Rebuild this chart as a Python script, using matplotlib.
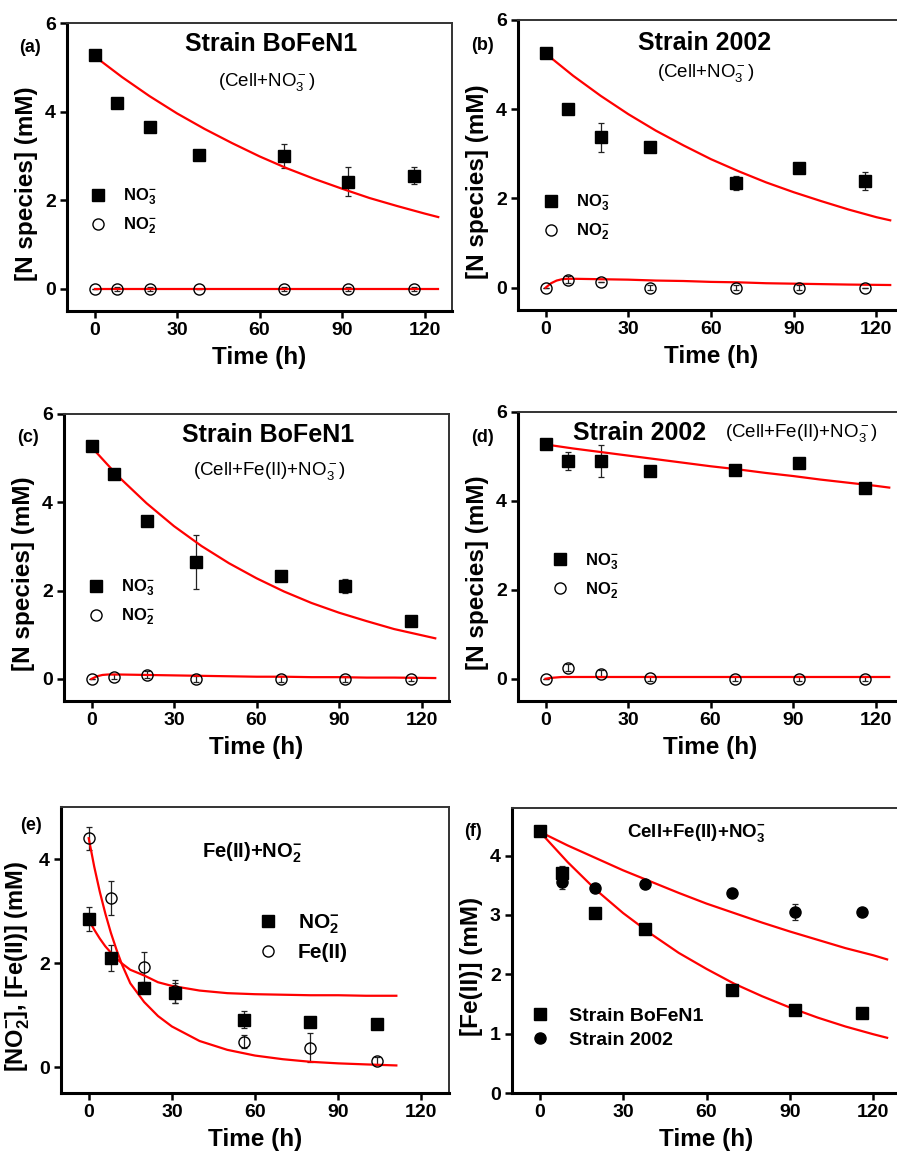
import matplotlib
matplotlib.use("Agg")
import matplotlib.pyplot as plt

plt.rcParams["font.family"] = ["Liberation Sans", "DejaVu Sans"]
plt.rcParams["mathtext.fontset"] = "custom"
plt.rcParams["mathtext.rm"] = "Liberation Sans"
plt.rcParams["mathtext.it"] = "Liberation Sans"
plt.rcParams["mathtext.bf"] = "Liberation Sans:bold"

# sampling times (h)
t = [0, 8, 20, 38, 69, 92, 116]
t_e = [0, 8, 20, 31, 56, 80, 104]

# (a) BoFeN1, Cell+NO3-
a_no3 = [5.27, 4.20, 3.65, 3.02, 3.00, 2.42, 2.55]
a_no3_err = [0.05, 0.05, 0.05, 0.06, 0.28, 0.33, 0.19]
a_no2 = [0, 0, 0, 0, 0, 0, 0]
a_no2_err = [0, 0.04, 0.04, 0, 0.04, 0.04, 0.04]

# (b) 2002, Cell+NO3-
b_no3 = [5.27, 4.01, 3.37, 3.15, 2.35, 2.69, 2.39]
b_no3_err = [0.03, 0.03, 0.32, 0.03, 0.15, 0.05, 0.20]
b_no2 = [0, 0.18, 0.12, 0, 0, 0, 0]
b_no2_err = [0, 0.08, 0, 0.05, 0.05, 0.05, 0]

# (c) BoFeN1, Cell+Fe(II)+NO3-
c_no3 = [5.27, 4.64, 3.57, 2.65, 2.32, 2.10, 1.32]
c_no3_err = [0.03, 0.05, 0.05, 0.62, 0.05, 0.16, 0.08]
c_no2 = [0, 0.05, 0.09, 0, 0, 0, 0]
c_no2_err = [0, 0.06, 0.08, 0.06, 0.06, 0.06, 0.05]

# (d) 2002, Cell+Fe(II)+NO3-
d_no3 = [5.28, 4.89, 4.89, 4.68, 4.70, 4.85, 4.29]
d_no3_err = [0.03, 0.20, 0.36, 0.10, 0.05, 0.03, 0.03]
d_no2 = [0, 0.25, 0.11, 0.01, 0, 0, 0]
d_no2_err = [0, 0.08, 0.08, 0.06, 0.06, 0.06, 0.06]

# (e) abiotic Fe(II)+NO2-
e_no2 = [2.84, 2.10, 1.51, 1.43, 0.91, 0.87, 0.83]
e_no2_err = [0.23, 0.25, 0.05, 0.19, 0.16, 0.03, 0.03]
e_fe = [4.40, 3.25, 1.93, 1.46, 0.49, 0.37, 0.11]
e_fe_err = [0.22, 0.33, 0.29, 0.22, 0.13, 0.28, 0.08]

# (f) Fe(II) with cells
f_bofen = [4.41, 3.70, 3.03, 2.76, 1.73, 1.39, 1.34]
f_bofen_err = [0.03, 0.12, 0.03, 0.03, 0.03, 0.03, 0.03]
f_2002 = [4.41, 3.55, 3.46, 3.52, 3.37, 3.05, 3.05]
f_2002_err = [0.03, 0.12, 0.03, 0.03, 0.03, 0.13, 0.03]

# model curves
fit_t = [0, 10, 20, 30, 40, 50, 60, 70, 80, 90, 100, 110, 120, 125]
fit_a_no3 = [5.25, 4.78, 4.35, 3.96, 3.61, 3.29, 2.99, 2.72, 2.48, 2.26, 2.05, 1.87, 1.70, 1.62]
fit_b_no3 = [5.25, 4.75, 4.30, 3.89, 3.52, 3.19, 2.88, 2.61, 2.36, 2.14, 1.94, 1.75, 1.58, 1.51]
fit_c_no3 = [5.25, 4.57, 3.98, 3.46, 3.01, 2.62, 2.28, 1.98, 1.72, 1.50, 1.31, 1.13, 0.99, 0.92]
fit_d_no3 = [5.27, 5.18, 5.10, 5.02, 4.94, 4.86, 4.78, 4.71, 4.63, 4.56, 4.48, 4.41, 4.34, 4.30]
fit_f_bofen = [4.40, 3.89, 3.43, 3.03, 2.68, 2.36, 2.09, 1.84, 1.63, 1.44, 1.27, 1.12, 0.99, 0.93]
fit_f_2002 = [4.40, 4.17, 3.96, 3.75, 3.56, 3.37, 3.19, 3.03, 2.87, 2.72, 2.58, 2.44, 2.32, 2.25]

fit_t_no2 = [0, 2, 4, 6, 8, 10, 20, 30, 40, 50, 60, 70, 80, 90, 100, 110, 125]
fit_a_no2 = [0, 0, 0, 0, 0, 0, 0, 0, 0, 0, 0, 0, 0, 0, 0, 0, 0]
fit_b_no2 = [0, 0.10, 0.16, 0.19, 0.20, 0.20, 0.19, 0.18, 0.16, 0.15, 0.13, 0.12, 0.10, 0.09, 0.08, 0.07, 0.06]
fit_c_no2 = [0, 0.06, 0.09, 0.10, 0.10, 0.10, 0.09, 0.08, 0.07, 0.06, 0.05, 0.05, 0.04, 0.04, 0.03, 0.03, 0.02]
fit_d_no2 = [0, 0.02, 0.03, 0.04, 0.04, 0.04, 0.04, 0.04, 0.04, 0.04, 0.04, 0.04, 0.04, 0.04, 0.04, 0.04, 0.04]

fit_t_e = [0, 2, 4, 6, 8, 10, 12, 15, 20, 25, 30, 40, 50, 60, 70, 80, 90, 100, 111]
fit_e_no2 = [2.83, 2.64, 2.47, 2.32, 2.20, 2.09, 1.99, 1.87, 1.76, 1.63, 1.56, 1.47, 1.42, 1.40, 1.39, 1.38, 1.38, 1.37, 1.37]
fit_e_fe = [4.40, 3.85, 3.37, 2.95, 2.58, 2.26, 1.97, 1.61, 1.25, 0.98, 0.78, 0.50, 0.33, 0.22, 0.15, 0.10, 0.07, 0.05, 0.03]

W, H = 897, 1153
fig = plt.figure(figsize=(W / 100, H / 100), dpi=100)


def px(x, y):
    return x / W, 1 - y / H


def make_axes(left, top, right, bottom, ylim, yticks):
    ax = fig.add_axes([left / W, 1 - bottom / H, (right - left) / W, (bottom - top) / H])
    ax.set_xlim(-10, 130)
    ax.set_ylim(*ylim)
    ax.set_xticks([0, 30, 60, 90, 120])
    ax.set_yticks(yticks)
    ax.tick_params(direction="out", length=5, width=1.8, pad=3, labelsize=14,
                   top=False, right=False)
    for lab in ax.get_xticklabels() + ax.get_yticklabels():
        lab.set_fontweight("bold")
    for s in ["left", "bottom"]:
        ax.spines[s].set_linewidth(2.2)
    for s in ["top", "right"]:
        ax.spines[s].set_linewidth(1.4)
        ax.spines[s].set_color("#333333")
    ax.set_xlabel("Time (h)", fontsize=17.5, fontweight="bold", labelpad=5)
    return ax


def y_label(ax, text, size):
    ax.set_ylabel(text, fontsize=size, fontweight="bold", labelpad=5)
    # label sits a little below the middle of the axis
    ax.yaxis.label.set_y(0.443)


def points(ax, x, y, err, marker, fill, label):
    ax.errorbar(x, y, yerr=err, fmt="none", ecolor="#222222", elinewidth=0.9,
                capsize=2.5, capthick=0.9, zorder=2)
    ax.plot(x, y, linestyle="none", marker=marker, markersize=8,
            markerfacecolor=fill, markeredgecolor="black", markeredgewidth=1.0,
            label=label, zorder=4)


def fit(ax, x, y):
    ax.plot(x, y, color="red", linewidth=1.6, zorder=3)


NO3 = r"NO$_\mathbf{3}^\mathbf{-}$"
NO2 = r"NO$_\mathbf{2}^\mathbf{-}$"

# panels (a)-(d): nitrate and nitrite
panels = [
    ((67, 23, 452, 311), a_no3, a_no3_err, a_no2, a_no2_err, fit_a_no3, fit_a_no2, (0.058, 0.345)),
    ((518, 20, 904, 310), b_no3, b_no3_err, b_no2, b_no2_err, fit_b_no3, fit_b_no2, (0.065, 0.32)),
    ((64, 414, 449, 701), c_no3, c_no3_err, c_no2, c_no2_err, fit_c_no3, fit_c_no2, (0.061, 0.343)),
    ((518, 412, 903, 701), d_no3, d_no3_err, d_no2, d_no2_err, fit_d_no3, fit_d_no2, (0.087, 0.433)),
]
for box, no3, no3_err, no2, no2_err, f3, f2, leg in panels:
    ax = make_axes(*box, ylim=(-0.5, 6), yticks=[0, 2, 4, 6])
    points(ax, t, no3, no3_err, "s", "black", NO3)
    points(ax, t, no2, no2_err, "o", "none", NO2)
    fit(ax, fit_t, f3)
    fit(ax, fit_t_no2, f2)
    y_label(ax, "[N species] (mM)", 17.5)
    ax.legend(loc="center left", bbox_to_anchor=leg, frameon=False, borderpad=0,
              borderaxespad=0, handlelength=1.0, handletextpad=1.0, labelspacing=0.5,
              prop={"size": 12, "weight": "bold"})

# panel (e)
ax = make_axes(61, 807, 449, 1093, ylim=(-0.5, 5), yticks=[0, 2, 4])
points(ax, t_e, e_no2, e_no2_err, "s", "black", NO2)
points(ax, t_e, e_fe, e_fe_err, "o", "none", "Fe(II)")
fit(ax, fit_t_e, fit_e_no2)
fit(ax, fit_t_e, fit_e_fe)
y_label(ax, r"[NO$_\mathbf{2}^\mathbf{-}$], [Fe(II)] (mM)", 17)
ax.legend(loc="center left", bbox_to_anchor=(0.506, 0.545), frameon=False, borderpad=0,
          borderaxespad=0, handlelength=1.0, handletextpad=0.95, labelspacing=0.35,
          prop={"size": 15, "weight": "bold"})

# panel (f)
ax = make_axes(512, 808, 901, 1093, ylim=(0, 4.8), yticks=[0, 1, 2, 3, 4])
points(ax, t, f_bofen, f_bofen_err, "s", "black", "Strain BoFeN1")
points(ax, t, f_2002, f_2002_err, "o", "black", "Strain 2002")
fit(ax, fit_t, fit_f_bofen)
fit(ax, fit_t, fit_f_2002)
y_label(ax, "[Fe(II)] (mM)", 17.5)
ax.legend(loc="center left", bbox_to_anchor=(0.046, 0.228), frameon=False, borderpad=0,
          borderaxespad=0, handlelength=1.0, handletextpad=1.0, labelspacing=0.3,
          prop={"size": 14, "weight": "bold"})

# titles and panel letters
bold = dict(fontweight="bold", ha="center", va="center")
fig.text(*px(271, 44), "Strain BoFeN1", fontsize=18, **bold)
fig.text(*px(267, 82), r"(Cell+NO$_3^-$)", fontsize=13.5, ha="center", va="center")
fig.text(*px(705, 43), "Strain 2002", fontsize=18, **bold)
fig.text(*px(706, 73), r"(Cell+NO$_3^-$)", fontsize=13.5, ha="center", va="center")
fig.text(*px(268, 435), "Strain BoFeN1", fontsize=18, **bold)
fig.text(*px(269, 471), r"(Cell+Fe(II)+NO$_3^-$)", fontsize=13.5, ha="center", va="center")
fig.text(*px(640, 433), "Strain 2002", fontsize=18, **bold)
fig.text(*px(801, 433), r"(Cell+Fe(II)+NO$_3^-$)", fontsize=13.5, ha="center", va="center")
fig.text(*px(252, 853), r"Fe(II)+NO$_\mathbf{2}^\mathbf{-}$", fontsize=14.5, **bold)
fig.text(*px(696, 833), r"Cell+Fe(II)+NO$_\mathbf{3}^\mathbf{-}$", fontsize=13.5, **bold)

for lab, x, y in [("(a)", 30, 48), ("(b)", 482, 45), ("(c)", 28, 438),
                  ("(d)", 482, 437), ("(e)", 31, 826), ("(f)", 473, 832)]:
    fig.text(*px(x, y), lab, fontsize=13, **bold)

fig.savefig("out.png", dpi=100)
